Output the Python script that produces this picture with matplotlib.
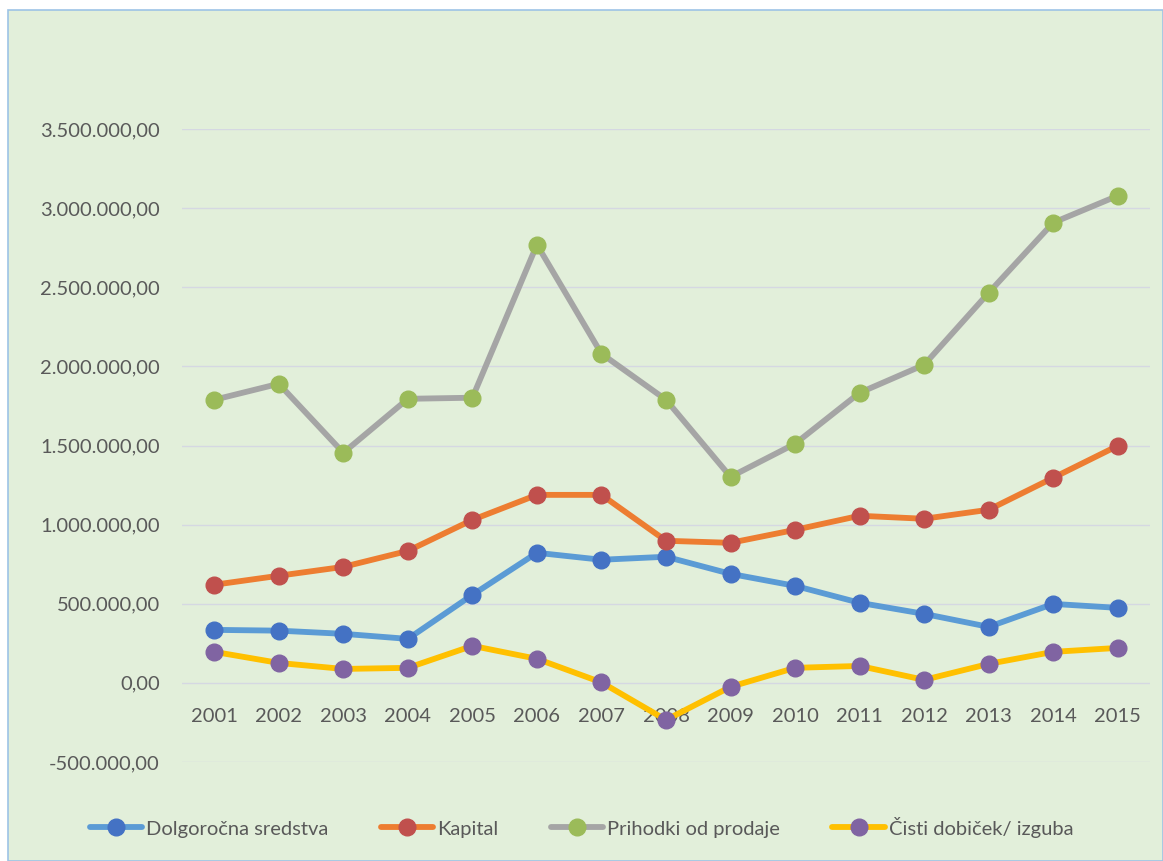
import matplotlib
matplotlib.use("Agg")
import matplotlib.pyplot as plt
from matplotlib.ticker import FuncFormatter, FixedLocator
from matplotlib.patches import Rectangle

years = [str(y) for y in range(2001, 2016)]
dolgorocna = [335000, 330000, 310000, 278000, 556000, 822000, 778000, 797000, 689000,
              613000, 506000, 436000, 354000, 499000, 474000]
kapital = [620000, 677000, 733000, 834000, 1030000, 1188000, 1188000, 898000, 885000,
           967000, 1056000, 1037000, 1094000, 1296000, 1498000]
prihodki = [1789000, 1890000, 1454000, 1795000, 1802000, 2769000, 2080000, 1789000, 1302000,
            1511000, 1833000, 2010000, 2465000, 2908000, 3078000]
dobicek = [196000, 126000, 88000, 95000, 234000, 152000, 3000, -234000, -25000,
           95000, 107000, 19000, 120000, 196000, 221000]

series = [
    ("Dolgoročna sredstva", dolgorocna, "#5B9BD5", "#4472C4"),
    ("Kapital", kapital, "#ED7D31", "#C0504D"),
    ("Prihodki od prodaje", prihodki, "#A5A5A5", "#9BBB59"),
    ("Čisti dobiček/ izguba", dobicek, "#FFC000", "#8064A2"),
]
yticks = [-500000, 0, 500000, 1000000, 1500000, 2000000, 2500000, 3000000, 3500000]

plt.rcParams['font.family'] = ['Lato', 'DejaVu Sans']
bg = "#E2EFDA"
txt = "#595959"
fs = 14.5

fig = plt.figure(figsize=(11.63, 8.61), dpi=100)
fig.patch.set_facecolor("white")
fig.patches.append(Rectangle((8 / 1163, 0), 1 - 8 / 1163, 1 - 10 / 861, transform=fig.transFigure,
                             facecolor=bg, edgecolor="#9DC3E6", linewidth=1.2, zorder=-10))

ax = fig.add_axes([182 / 1163, 1 - 762 / 861, (1150 - 182) / 1163, (762 - 129) / 861])
ax.set_facecolor("none")
x = list(range(len(years)))
for name, vals, lc, mc in series:
    ax.plot(x, vals, color=lc, linewidth=4.2, marker="o", markersize=12,
            markerfacecolor=mc, markeredgecolor=mc, label=name, solid_capstyle="round", zorder=3)

ax.set_xlim(-0.5, len(years) - 0.5)
ax.set_ylim(-500000, 3500000)
ax.yaxis.set_major_locator(FixedLocator(yticks))


def fmt(v, pos=None):
    s = f"{abs(v):,.2f}".replace(",", "X").replace(".", ",").replace("X", ".")
    return ("-" if v < 0 else "") + s


ax.yaxis.set_major_formatter(FuncFormatter(fmt))
ax.grid(axis="y", color="#D5D8E2", linewidth=1.0, zorder=1)
ax.set_xticks([])
for s in ax.spines.values():
    s.set_visible(False)
ax.tick_params(axis="y", length=0, pad=16, labelsize=fs, labelcolor=txt)

for i, yr in enumerate(years):
    ax.annotate(yr, xy=(i, 0), xytext=(0, -24.5), textcoords="offset points",
                ha="center", va="center", fontsize=fs, color=txt, zorder=2)

leg = fig.legend(loc="center", bbox_to_anchor=(0.5, 1 - 827 / 861), ncol=4, frameon=False,
                 fontsize=fs, handlelength=2.6, columnspacing=2.6, handletextpad=0.2)
for t in leg.get_texts():
    t.set_color(txt)

fig.savefig("out.png", dpi=100, facecolor=fig.get_facecolor())
